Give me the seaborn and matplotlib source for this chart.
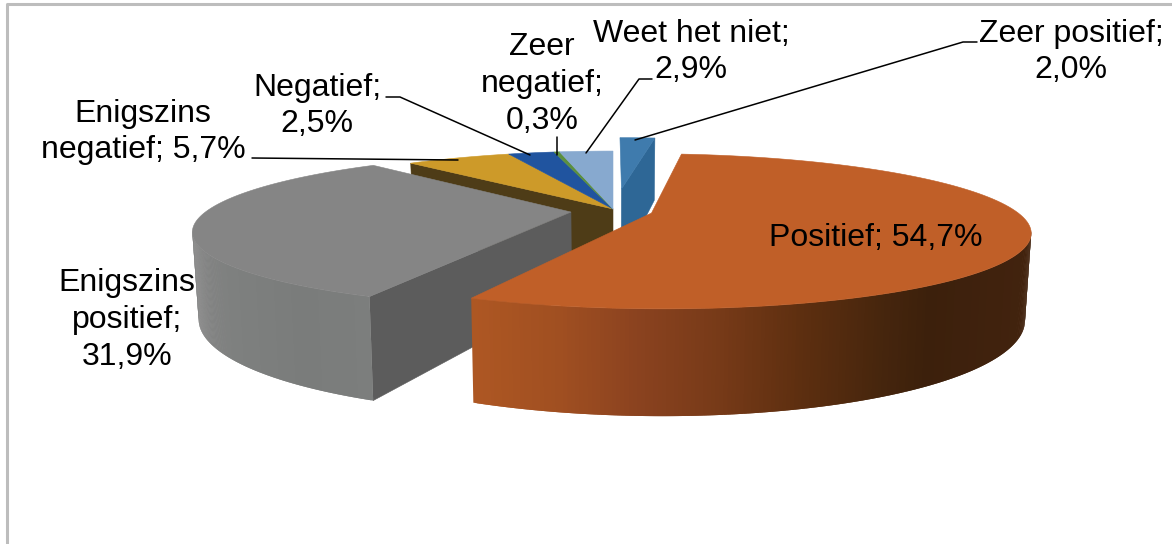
import numpy as np
import matplotlib
matplotlib.use("Agg")
import matplotlib.pyplot as plt
import seaborn as sns

categories = ["Zeer positief", "Positief", "Enigszins positief", "Enigszins negatief",
              "Negatief", "Zeer negatief", "Weet het niet"]
values = [2.0, 54.7, 31.9, 5.7, 2.5, 0.3, 2.9]
label_texts = ["Zeer positief;\n2,0%", "Positief; 54,7%", "Enigszins\npositief;\n31,9%",
               "Enigszins\nnegatief; 5,7%", "Negatief;\n2,5%", "Zeer\nnegatief;\n0,3%",
               "Weet het niet;\n2,9%"]

sns.set_theme(style="white")
plt.rcParams["font.family"] = ["Liberation Sans", "DejaVu Sans"]

top_colors = sns.color_palette(["#3F7BAD", "#C05F28", "#858585", "#CD9A29", "#20549F", "#5B8F3E", "#87A9CF"])
inner_colors = ["#2E6796", "#6A3414", "#5C5C5C", "#4E3C17", "#123166", "#33552A", "#5D7CA0"]
explode = {"Zeer positief": (0.025, 0.30), "Positief": (0.105, -0.056), "Enigszins positief": (-0.115, -0.042)}
label_pos = [(1071, 52), (876, 238), (127, 320), (143, 132), (317, 106), (542, 84), (691, 52)]
leaders = [[(977, 42), (963, 42), (635, 140)], [(652, 79), (639, 79), (586, 153)], [(557, 137), (557, 155)],
           [(386, 97), (400, 97), (530, 155)], [(252, 158), (458, 160)]]

CX, CY, A, B, K, H = 613, 209, 362, 71.4, 0.232, 81
START = 0.0
VISIBLE = (103.4, 256.6)


def project(v, u, down=False):
    d = 1 + K * u
    s = 0.985 if down else 1.0
    return CX + A * v / d * s, CY - B * u / d + (H / d if down else 0)


def rim(t1, t2, e, down=False, n=120):
    t = np.radians(np.linspace(t1, t2, n))
    return project(np.sin(t) + e[0], np.cos(t) + e[1], down)


fig = plt.figure(figsize=(11.72, 5.44), dpi=100)
ax = fig.add_axes([0, 0, 1, 1])
ax.set_xlim(0, 1172)
ax.set_ylim(544, 0)
ax.axis("off")

# chart frame
ax.plot([7, 7, 1172], [544, 3.5, 3.5], color="#BDBDBD", lw=2.2, solid_capstyle="butt", zorder=1)

edges = START + 360 * np.concatenate([[0], np.cumsum(values)]) / np.sum(values)
spans = {c: (edges[i], edges[i + 1], i) for i, c in enumerate(categories)}


def top_face(cat, z):
    t1, t2, i = spans[cat]
    e = explode.get(cat, (0, 0))
    x, y = rim(t1, t2, e)
    ax0, ay0 = project(e[0], e[1])
    ax.fill(np.r_[ax0, x], np.r_[ay0, y], color=top_colors[i], lw=0.4, zorder=z)


def inner_face(cat, angle, z):
    i = spans[cat][2]
    e = explode.get(cat, (0, 0))
    t = np.radians(angle)
    a, c = project(e[0], e[1]), project(e[0], e[1], True)
    b = project(np.sin(t) + e[0], np.cos(t) + e[1])
    d = project(np.sin(t) + e[0], np.cos(t) + e[1], True)
    ax.fill([a[0], b[0], d[0], c[0]], [a[1], b[1], d[1], c[1]], color=inner_colors[i], lw=0.4, zorder=z)


def outer_side(cat, xstops, stops, z, n=200):
    t1, t2, i = spans[cat]
    e = explode.get(cat, (0, 0))
    t1, t2 = max(t1, VISIBLE[0]), min(t2, VISIBLE[1])
    xt, yt = rim(t1, t2, e, n=n + 2)
    xb, yb = rim(t1, t2, e, True, n=n + 2)
    rgb = np.array(sns.color_palette(stops))
    for j in range(n):
        xm = xt[j:j + 2].mean()
        col = [np.interp(xm, xstops, rgb[:, c]) for c in range(3)]
        ax.fill([xt[j], xt[j + 2], xb[j + 2], xb[j]], [yt[j], yt[j + 2], yb[j + 2], yb[j]],
                color=col, lw=0, zorder=z)


# back slices
inner_face("Enigszins negatief", spans["Enigszins negatief"][0], 2)
for c in ["Enigszins negatief", "Negatief", "Zeer negatief", "Weet het niet"]:
    top_face(c, 3)

# small exploded slice at the top
inner_face("Zeer positief", spans["Zeer positief"][1], 4)
top_face("Zeer positief", 5)

# grey slice
inner_face("Enigszins positief", spans["Enigszins positief"][0], 6)
outer_side("Enigszins positief", [190, 230, 300, 372], ["#858585", "#7E807F", "#7A7C7B", "#7C7E7D"], 6)
top_face("Enigszins positief", 7)

# orange slice
outer_side("Positief", [472, 560, 640, 720, 800, 880, 930, 1030],
           ["#AE5723", "#A04F21", "#8A421F", "#773A18", "#5E2F10", "#47260D", "#3C200C", "#42230E"], 8)
top_face("Positief", 9)

for pts in leaders:
    p = np.array(pts)
    ax.plot(p[:, 0], p[:, 1], color="black", lw=1.1, zorder=10)

for txt, (x, y) in zip(label_texts, label_pos):
    ax.text(x, y, txt, ha="center", va="center", fontsize=23, color="black",
            linespacing=1.3, zorder=11)

fig.savefig("out.png", dpi=100)
